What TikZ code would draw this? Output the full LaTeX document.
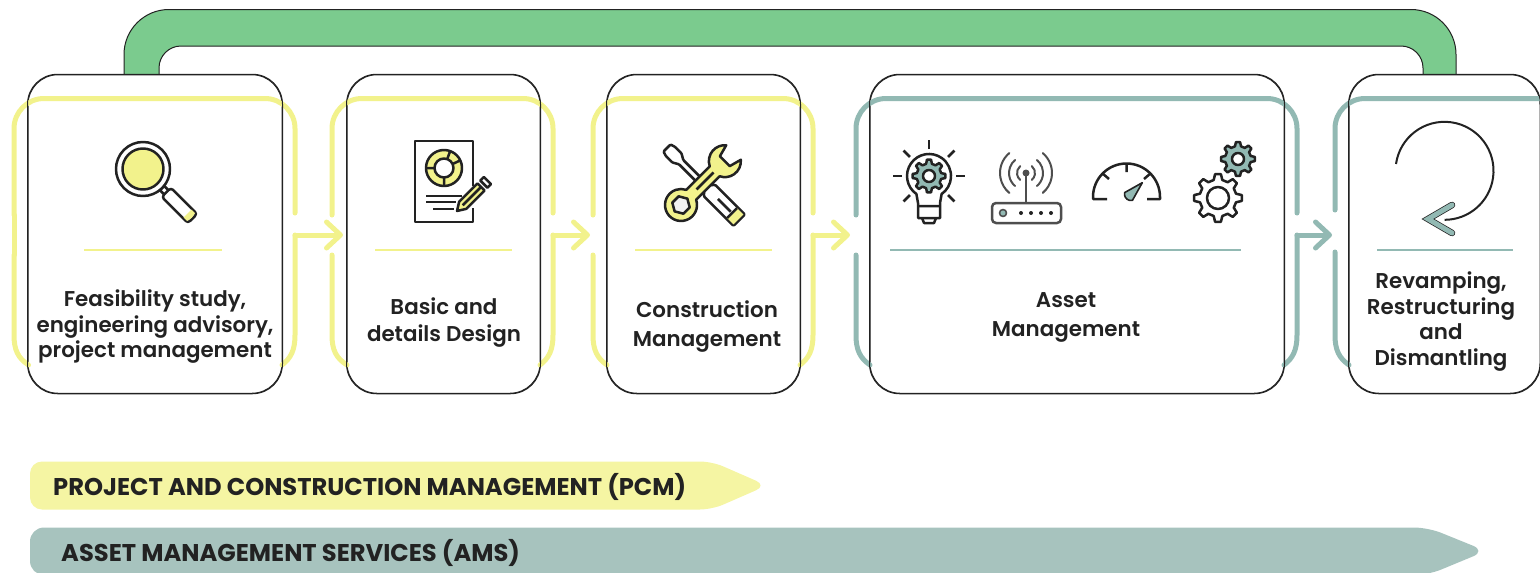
\documentclass[tikz,border=0pt]{standalone}
\usepackage{fontspec}
\setmainfont{Poppins}[BoldFont={Poppins SemiBold}]
\newfontfamily\bandfont{Poppins Bold}
\usetikzlibrary{arrows.meta}

\definecolor{pcmline}{HTML}{F2F28C}
\definecolor{pcmband}{HTML}{F5F5A3}
\definecolor{amsline}{HTML}{92B9B3}
\definecolor{amsband}{HTML}{A7C3BE}
\definecolor{loopgreen}{HTML}{7BCB8E}
\definecolor{inkdark}{HTML}{222222}

\tikzset{
  card/.style={draw=inkdark, fill=white, line width=1pt, rounded corners=30pt, inner sep=0pt},
  cardline/.style={draw=inkdark, line width=1pt, rounded corners=30pt},
  frameline/.style={line width=5pt, line cap=round},
  stagearrow/.style={line width=5pt, line cap=round, -{Straight Barb[length=14pt,width=26pt,round]}},
  divider/.style={line width=2.2pt},
  cardtext/.style={font=\fontsize{21.4}{25.5}\selectfont\bfseries, text=inkdark, align=center, inner sep=0pt},
  bandtext/.style={font=\fontsize{24.2}{26}\selectfont\bandfont, text=inkdark, anchor=west, inner sep=0pt},
  iconline/.style={draw=inkdark, line width=2.5pt, line join=round}
}

% gear: x, y, outer radius, root radius, hole radius, fill
\newcommand{\geardraw}[6]{
  \begin{scope}[shift={(#1,#2)}]
    \draw[iconline, fill=#6] (-13.5:#4) \foreach \a in {0,45,...,315} {
      -- ({\a-7}:#3) -- ({\a+7}:#3) -- ({\a+13.5}:#4) -- ({\a+31.5}:#4) } -- cycle;
    \draw[iconline, fill=white] (0,0) circle (#5);
  \end{scope}
}

\begin{document}
\begin{tikzpicture}[x=1pt, y=-1pt]
  \clip (0,0) rectangle (1540,573);

  % boucle verte
  \draw[draw=inkdark, line width=1pt, fill=loopgreen] (124,74.5) [rounded corners=45pt] -- (124,9.5) -- (1456,9.5)
    [sharp corners] -- (1456,74.5) -- (1423,74.5) [rounded corners=22pt] -- (1423,46) -- (159,46)
    [sharp corners] -- (159,74.5) -- cycle;

  % cards
  \node[card, minimum width=254pt, minimum height=318.5pt] (feasibility) at (155,234) {};
  \node[card, minimum width=193pt, minimum height=318.5pt] (design) at (443.5,234) {};
  \node[card, minimum width=193pt, minimum height=318.5pt] (construction) at (703.5,234) {};
  \node[card, minimum width=414pt, minimum height=318.5pt] (asset) at (1077,234) {};
  \node[card, minimum width=191pt, minimum height=318.5pt] (revamping) at (1444.5,234) {};

  % frames
  \foreach \i/\fl/\fr/\cl/\cr/\tip/\col in {1/14/295/28.5/282/343/pcmline, 2/332/553/347/540/590/pcmline,
      3/593/813/607/800/850/pcmline, 4/856/1297/870/1284/1332/amsline} {
    \coordinate (out\i) at (\fr,235);
    \coordinate (in\i) at (\tip,235);
    \draw[frameline, \col] (\fl,255) -- (\fl,335) .. controls (\fl,350) and ({\fl+4},358) .. (\cl,365);
    \draw[frameline, \col, rounded corners=30pt] (\fl,215) -- (\fl,98.5) -- (\fr,98.5) -- (\fr,213);
    \draw[frameline, \col] (out\i) -- (\fr,335) .. controls (\fr,350) and ({\fr-4},358) .. (\cr,365);
    \draw[stagearrow, \col] (out\i) -- (in\i);
  }
  \draw[frameline, pcmline] (14,215) -- (14,255);
  \draw[frameline, amsline] (1335,252) -- (1335,335) .. controls (1335,350) and (1339,358) .. (1349,365);
  \draw[frameline, amsline, rounded corners=30pt] (1335,210) -- (1335,98.5) -- (1570,98.5);

  % card borders above the frames
  \foreach \n in {feasibility, design, construction, asset, revamping}
    \draw[cardline] (\n.south west) rectangle (\n.north east);

  % dividers
  \draw[divider, pcmline] (84,250) -- (222,250);
  \draw[divider, pcmline] (375,250) -- (512,250);
  \draw[divider, pcmline] (635,250) -- (772,250);
  \draw[divider, amsline] (890,250) -- (1241,250);
  \draw[divider, amsline] (1377,250) -- (1513,250);

  % magnifier
  \begin{scope}[shift={(143,169)}, rotate=-45]
    \draw[iconline, fill=white] (27,-3) rectangle (34,3);
    \draw[iconline, fill=white, rounded corners=3pt] (33,-6.5) rectangle (70,6.5);
    \fill[pcmline] (63,-5.5) -- (68,-5.5) -- (69,0) -- (68,5.5) -- (63,5.5) -- cycle;
    \draw[iconline, fill=white] (0,0) circle (27);
    \draw[iconline, fill=pcmline] (0,0) circle (20.5);
  \end{scope}

  % document
  \draw[iconline] (473,186) -- (473,141) -- (415,141) -- (415,222) -- (473,222) -- (473,208);
  \begin{scope}[shift={(444,168)}, y=1pt]
    \draw[iconline, fill=pcmline] (0,0) circle (18);
    \draw[iconline] (70:9) -- (70:18) (180:9) -- (180:18) (270:9) -- (270:18) (25:9) -- (25:18);
    \draw[iconline, fill=white] (0,0) circle (9.5);
  \end{scope}
  \draw[iconline] (426,196) -- (462,196) (426,202) -- (456,202) (433,209) -- (454,209);
  \begin{scope}[shift={(457,211)}, rotate=45, y=1pt]
    \draw[iconline, fill=pcmline] (0,0) -- (8,5) -- (34,5) -- (34,-5) -- (8,-5) -- cycle;
    \draw[iconline] (8,0) -- (34,0);
    \draw[iconline, fill=white] (38,-5) rectangle (43,5);
  \end{scope}

  % tools
  \begin{scope}[shift={(667,148)}, rotate=-45, y=1pt]
    \draw[iconline, fill=white, rounded corners=1pt] (0,-5) -- (5,-6.5) -- (14,-6.5) -- (20,-3) -- (56,-3) -- (60,-8)
      -- (102,-8) -- (102,8) -- (60,8) -- (56,3) -- (20,3) -- (14,6.5) -- (5,6.5) -- (0,5) -- cycle;
    \fill[pcmline] (92,-7) rectangle (101,7);
    \draw[iconline] (72,0) -- (90,0) (92,-7) -- (92,7);
  \end{scope}
  \begin{scope}[shift={(681,205)}, rotate=45, y=1pt]
    \draw[iconline, fill=pcmline] (14.4,7) -- (47.6,7) arc[start angle=154, end angle=40, radius=16pt]
      -- (62,7) -- (62,-7) -- (74.3,-10.3) arc[start angle=-40, end angle=-154, radius=16pt]
      -- (14.4,-7) arc[start angle=-26, end angle=-334, radius=16pt] -- cycle;
    \draw[iconline] (22,0) -- (46,0);
    \draw[iconline, fill=black!5] (0:9) -- (60:9) -- (120:9) -- (180:9) -- (240:9) -- (300:9) -- cycle;
  \end{scope}

  % bulb
  \begin{scope}[shift={(929,176)}, y=1pt]
    \foreach \a in {0,45,90,135,180,225,315}
      \draw[iconline] (\a:27) -- (\a:36);
  \end{scope}
  \draw[iconline, fill=white] (918,218) -- (918,203) -- (916.4,194) arc[start angle=235, end angle=-55, radius=22pt]
    -- (940,203) -- (940,218) -- cycle;
  \draw[iconline] (918,206) -- (940,206) (922,218) -- (924,223) -- (934,223) -- (936,218);
  \geardraw{929}{176}{16.5}{12.5}{6}{amsline}

  % router
  \draw[iconline, draw=inkdark!80, rounded corners=4pt] (992,203) rectangle (1061,223);
  \draw[iconline, line width=1.6pt, draw=inkdark!80, fill=amsline] (1003,213) circle (3.5);
  \foreach \x in {1021,1031,1041,1051}
    \fill[inkdark] (\x,213) circle (2);
  \draw[iconline, draw=inkdark!80] (1026,173) -- (1026,203);
  \fill[inkdark!80] (1026,173) circle (3.5);
  \begin{scope}[shift={(1026,173)}, y=1pt]
    \foreach \r in {9,17,26} {
      \draw[iconline, line width=2pt, draw=inkdark!80, line cap=round] (130:\r) arc[start angle=130, end angle=230, radius=\r pt];
      \draw[iconline, line width=2pt, draw=inkdark!80, line cap=round] (50:\r) arc[start angle=50, end angle=-50, radius=\r pt];
    }
  \end{scope}

  % gauge
  \draw[iconline] (1107,199) -- (1093,199) -- (1093,197) arc[start angle=180, end angle=0, radius=33.5pt] -- (1160,199) -- (1147,199);
  \draw[iconline] (1126.5,163) -- (1126.5,172) (1102,173) -- (1109,179) (1151,173) -- (1144,179);
  \begin{scope}[shift={(1131,194)}, rotate=45, y=1pt]
    \draw[iconline, line width=1.6pt, fill=amsline] (-3.5,5.5) arc[start angle=122, end angle=238, radius=6.5pt] -- (-3.5,-5.5) -- (16,0) -- cycle;
  \end{scope}

  % gears
  \geardraw{1218}{198}{24}{18.5}{11}{white}
  \geardraw{1238}{159}{17}{13}{6}{amsline}

  % revamping arrow
  \draw[iconline, line width=2pt] (1396,164) arc[start angle=172, end angle=-90, radius=49pt];
  \coordinate (arrowtip) at (1428,219);
  \draw[line width=6.5pt, draw=inkdark, line cap=round, line join=miter] (1452,205) -- (arrowtip) -- (1452,233);
  \draw[line width=5pt, draw=amsline, line cap=round, line join=miter] (1452,205) -- (arrowtip) -- (1452,233);

  % card texts
  \node[cardtext] (feasibilitytext) at (155,327) {Feasibility study,\\engineering advisory,\\project management};
  \node[cardtext] (designtext) at (444,323) {Basic and\\[1.5pt]details Design};
  \node[cardtext] (constructiontext) at (707,326.5) {Construction\\[3.5pt]Management};
  \node[cardtext] (assettext) at (1066,317.5) {Asset\\[3.5pt]Management};
  \node[cardtext] (revampingtext) at (1441,321.5) {Revamping,\\Restructuring\\and\\Dismantling};

  % bands
  \fill[pcmband, rounded corners=12pt] (30,461.5) -- (712,461.5) -- (767,485.5) -- (712,509.5) -- (30,509.5) -- cycle;
  \fill[amsband, rounded corners=14pt] (30,527.5) -- (1428,527.5) -- (1486,551) -- (1428,575) -- (30,575) -- cycle;
  \node[bandtext] (pcmtext) at (53,487) {PROJECT AND CONSTRUCTION MANAGEMENT (PCM)};
  \node[bandtext] (amstext) at (61,553) {ASSET MANAGEMENT SERVICES (AMS)};
\end{tikzpicture}
\end{document}
